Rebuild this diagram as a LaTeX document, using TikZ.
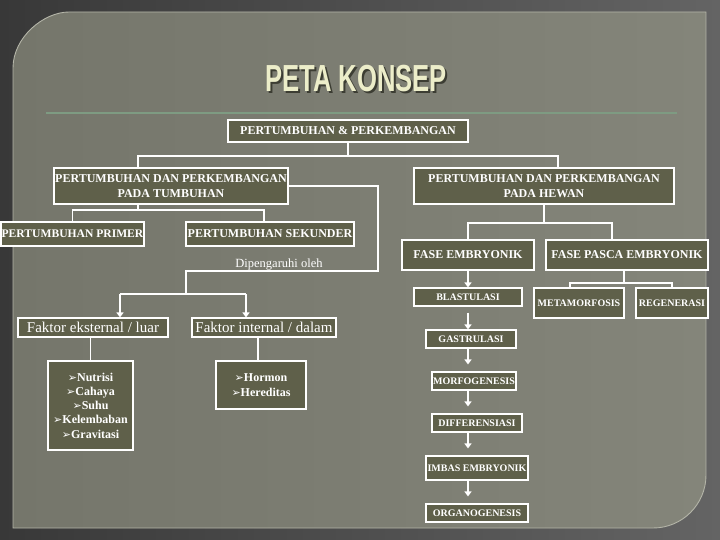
\documentclass[tikz,border=0pt]{standalone}
\usepackage{fontspec}
\setmainfont{Liberation Serif}
\newfontfamily\titlefont{Liberation Sans}
\newfontfamily\symfont{DejaVu Sans}
\usetikzlibrary{arrows.meta}
\definecolor{bgdark}{HTML}{383838}
\definecolor{bglight}{HTML}{646464}
\definecolor{panelA}{HTML}{75766B}
\definecolor{panelB}{HTML}{84857A}
\definecolor{panelline}{HTML}{B4B5A8}
\definecolor{boxfill}{HTML}{5F604A}
\definecolor{titlecol}{HTML}{ECEDC9}
\definecolor{titleshadow}{HTML}{3C3D33}
\definecolor{rulecol}{HTML}{7E9B82}
\newcommand{\bul}{{\symfont\fontsize{11}{11}\selectfont ➢}}
\newcommand{\titletext}{\scalebox{0.68}[1]{PETA KONSEP}}
\tikzset{
  box/.style={draw=white, line width=1.1pt, fill=boxfill, text=white, align=center,
    inner sep=0pt, font=\bfseries\fontsize{12}{15}\selectfont},
  smallbox/.style={box, font=\bfseries\fontsize{10}{12}\selectfont},
  faktorbox/.style={box, font=\fontsize{15}{15}\selectfont},
  conn/.style={draw=white, line width=1.1pt},
  arr/.style={draw=white, line width=2pt, -{Triangle[length=5pt,width=7pt]}},
}
\begin{document}
\begin{tikzpicture}[x=1pt,y=-1pt]
\useasboundingbox (0,0) rectangle (720,540);
% background
\shade[left color=bgdark, right color=bglight] (0,0) rectangle (720,540);
% panel
\shade[left color=panelA, right color=panelB]
  (13,528) -- (13,68) .. controls (13,37.1) and (43.9,12) .. (69,12)
  -- (706,12) -- (706,475) .. controls (706,504.3) and (682.3,528) .. (653,528) -- cycle;
\draw[panelline, line width=0.9pt]
  (13,528) -- (13,68) .. controls (13,37.1) and (43.9,12) .. (69,12)
  -- (706,12) -- (706,475) .. controls (706,504.3) and (682.3,528) .. (653,528) -- cycle;
% title (with its shadow set in the same node)
\node[anchor=base, text=titlecol, font=\titlefont\bfseries\fontsize{37.7}{38}\selectfont] (title) at (356,92)
  {\rlap{\kern2pt\raisebox{-2pt}{\color{titleshadow}\titletext}}\titletext};
\draw[rulecol, line width=2pt] (46,113) -- (677,113);

% nodes
\node[box, minimum width=240pt, minimum height=22pt] (top) at (348,131) {PERTUMBUHAN \& PERKEMBANGAN};
\node[box, minimum width=234pt, minimum height=36pt] (tumb) at (171,186) {PERTUMBUHAN DAN PERKEMBANGAN\\PADA TUMBUHAN};
\node[box, minimum width=260pt, minimum height=36pt] (hewan) at (544,186) {PERTUMBUHAN DAN PERKEMBANGAN\\PADA HEWAN};
\node[box, minimum width=143pt, minimum height=24pt, font=\bfseries\fontsize{11.6}{12}\selectfont] (primer) at (72.5,234) {PERTUMBUHAN PRIMER};
\node[box, minimum width=168pt, minimum height=24pt] (sekunder) at (270,234) {PERTUMBUHAN SEKUNDER};
\node[text=white, anchor=base, font=\fontsize{12.5}{12}\selectfont] (dip) at (279,267) {Dipengaruhi oleh};
\node[faktorbox, minimum width=150pt, minimum height=19pt] (eks) at (93,327.5) {Faktor eksternal / luar};
\node[faktorbox, minimum width=144pt, minimum height=19pt] (int) at (264,327.5) {Faktor internal / dalam};
\node[box, minimum width=85pt, minimum height=89pt, font=\bfseries\fontsize{12}{14.3}\selectfont] (nutr) at (90.5,405.5)
  {\bul Nutrisi\\\bul Cahaya\\\bul Suhu\\\bul Kelembaban\\\bul Gravitasi};
\node[box, minimum width=90pt, minimum height=48pt, font=\bfseries\fontsize{12}{15}\selectfont] (horm) at (261,385)
  {\bul Hormon\\\bul Hereditas};
\node[box, minimum width=132pt, minimum height=30pt] (fe) at (468,255) {FASE EMBRYONIK};
\node[box, minimum width=162pt, minimum height=30pt] (fpe) at (627,255) {FASE PASCA EMBRYONIK};
\node[smallbox, minimum width=108pt, minimum height=18pt] (blas) at (468,297) {BLASTULASI};
\node[smallbox, minimum width=90pt, minimum height=30pt] (meta) at (579,303) {METAMORFOSIS};
\node[smallbox, minimum width=72pt, minimum height=30pt] (regen) at (672,303) {REGENERASI};
\node[smallbox, minimum width=90pt, minimum height=18pt] (gast) at (471,339) {GASTRULASI};
\node[smallbox, minimum width=84pt, minimum height=18pt] (morf) at (474,381) {MORFOGENESIS};
\node[smallbox, minimum width=90pt, minimum height=18pt] (diff) at (477,423) {DIFFERENSIASI};
\node[smallbox, minimum width=102pt, minimum height=24pt] (imbas) at (477,468) {IMBAS EMBRYONIK};
\node[smallbox, minimum width=102pt, minimum height=18pt] (organ) at (477,513) {ORGANOGENESIS};

% junction coordinates
\coordinate (j1) at (348,156);
\coordinate (j2) at (138,210);
\coordinate (j3) at (378,271);
\coordinate (j3b) at (186,271);
\coordinate (j4) at (186,294);
\coordinate (ja) at (120,294);
\coordinate (jb) at (246,294);
\coordinate (j5) at (544,223);
\coordinate (j6) at (624,283);
\coordinate (ax) at (468,0);

% connectors
\draw[conn] (top.south) -- (j1);
\draw[conn] ([xshift=-33pt]tumb.north) |- (j1) -| ([xshift=14pt]hewan.north);
\draw[conn] ([xshift=-33pt]tumb.south) -- (j2);
\draw[conn] (primer.north) |- (j2) -| ([xshift=-6pt]sekunder.north);
\draw[conn] (tumb.east) -| (j3) -- (j3b) -- (j4);
\draw[conn] (ja) -- (jb);
\draw[arr] (ja) -- (ja |- eks.north);
\draw[arr] (jb) -- (jb |- int.north);
\draw[conn] (nutr.north |- eks.south) -- (nutr.north);
\draw[conn] ([xshift=-3pt]horm.north |- int.south) -- ([xshift=-3pt]horm.north);
\draw[conn] (hewan.south) -- (j5);
\draw[conn] (fe.north) |- (j5) -| ([xshift=-15pt]fpe.north);
\draw[conn] ([xshift=-3pt]fpe.south) -- (j6);
\draw[conn] ([xshift=-9pt]meta.north) |- (j6) -| (regen.north);
% chain arrows
\draw[arr] (fe.south -| ax) -- (blas.north -| ax);
\draw[arr, shorten <=6pt] (blas.south -| ax) -- (gast.north -| ax);
\draw[arr, shorten >=7pt] (gast.south -| ax) -- (morf.north -| ax);
\draw[arr, shorten >=7pt] (morf.south -| ax) -- (diff.north -| ax);
\draw[arr, shorten >=7pt] (diff.south -| ax) -- (imbas.north -| ax);
\draw[arr, shorten >=7pt] (imbas.south -| ax) -- (organ.north -| ax);
\end{tikzpicture}
\end{document}
